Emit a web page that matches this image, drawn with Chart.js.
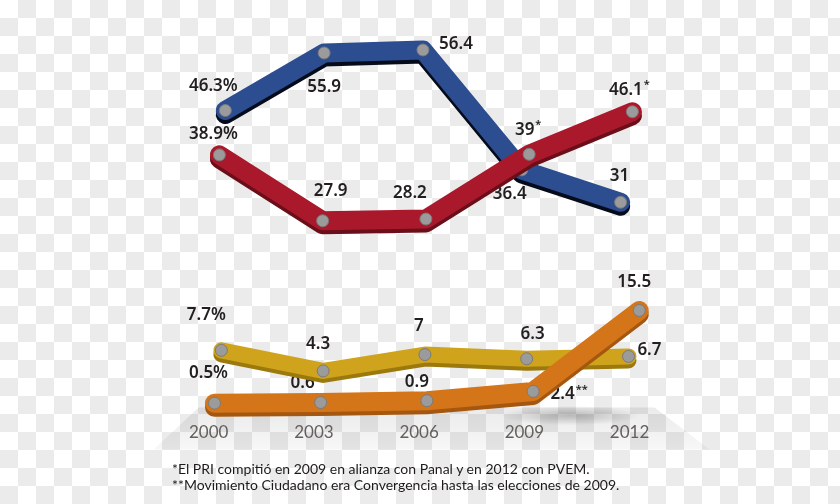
<!DOCTYPE html>
<html>
<head>
<meta charset="utf-8">
<script src="https://cdn.jsdelivr.net/npm/chart.js@4.4.1/dist/chart.umd.min.js"></script>
<style>
  html, body { margin: 0; padding: 0; }
  body {
    width: 840px; height: 504px; overflow: hidden; position: relative;
    background: repeating-conic-gradient(#ebebeb 0 25%, #ffffff 0 50%) 0 0 / 36px 36px;
  }
  #wrap { position: absolute; left: 0; top: 0; width: 840px; height: 504px; }
  .notes {
    position: absolute; left: 172px; top: 461px;
    font: 14px Lato, "Noto Sans", sans-serif; line-height: 16px; color: #1e1a1b;
  }
</style>
</head>
<body>
<div id="wrap"><canvas id="chart" width="840" height="504"></canvas></div>
<div class="notes">
  <div>*El PRI compitió en 2009 en alianza con Panal y en 2012 con PVEM.</div>
  <div>**Movimiento Ciudadano era Convergencia hasta las elecciones de 2009.</div>
</div>
<script>
const years = [2000, 2003, 2006, 2009, 2012];
const panValues = [46.3, 55.9, 56.4, 36.4, 31];
const priValues = [38.9, 27.9, 28.2, 39, 46.1];
const prdValues = [7.7, 4.3, 7, 6.3, 6.7];
const mcValues = [0.5, 0.6, 0.9, 2.4, 15.5];
const priNotes = ['', '', '', '*', '*'];
const mcNotes = ['', '', '', '**', ''];

const labelFont = '600 17px "Noto Sans", Lato, sans-serif';
const noteFont = '600 11px "Noto Sans", Lato, sans-serif';

function points(values) {
  return values.map((v, i) => ({ x: years[i], y: v }));
}

function series(values, notes, color, shadow, width, xAxisID, yAxisID, labelOffsets) {
  return {
    data: points(values),
    notes: notes,
    labelOffsets: labelOffsets,
    shadowColor: shadow,
    xAxisID: xAxisID,
    yAxisID: yAxisID,
    borderColor: color,
    borderWidth: width,
    borderCapStyle: 'round',
    borderJoinStyle: 'round',
    tension: 0,
    fill: false,
    pointRadius: 6,
    pointBackgroundColor: '#9b9b9b',
    pointBorderColor: '#7a7a7a',
    pointBorderWidth: 1,
  };
}

// grey floor under the bottom group
const floorPlugin = {
  id: 'floor',
  beforeDatasetsDraw(chart) {
    const { ctx, chartArea } = chart;
    const sx = chart.scales.x;
    const l = sx.getPixelForValue(2000), r = sx.getPixelForValue(2012);
    const t = chartArea.bottom - 12, b = chartArea.bottom + 30;
    ctx.save();
    const g = ctx.createLinearGradient(0, t, 0, b);
    g.addColorStop(0, 'rgba(0,0,0,0.08)');
    g.addColorStop(1, 'rgba(0,0,0,0.03)');
    ctx.fillStyle = g;
    ctx.beginPath();
    ctx.moveTo(l - 10, t);
    ctx.lineTo(r + 25, t);
    ctx.lineTo(r + 80, b);
    ctx.lineTo(l - 55, b);
    ctx.closePath();
    ctx.fill();
    const cx = sx.getPixelForValue(2010.3), cy = chartArea.bottom - 4;
    const rg = ctx.createRadialGradient(cx, cy, 0, cx, cy, 70);
    rg.addColorStop(0, 'rgba(0,0,0,0.22)');
    rg.addColorStop(1, 'rgba(0,0,0,0)');
    ctx.fillStyle = rg;
    ctx.translate(cx, cy);
    ctx.scale(1, 0.14);
    ctx.translate(-cx, -cy);
    ctx.beginPath();
    ctx.arc(cx, cy, 70, 0, Math.PI * 2);
    ctx.fill();
    ctx.restore();
  },
};

// value labels, drawn before the lines so lines pass over them
const labelPlugin = {
  id: 'valueLabels',
  beforeDatasetsDraw(chart) {
    const { ctx } = chart;
    ctx.save();
    ctx.fillStyle = '#231f20';
    ctx.textBaseline = 'middle';
    ctx.textAlign = 'left';
    chart.data.datasets.forEach((ds, di) => {
      const meta = chart.getDatasetMeta(di);
      meta.data.forEach((pt, i) => {
        const text = String(ds.data[i].y) + (i === 0 ? '%' : '');
        const note = ds.notes[i];
        const [dx, dy] = ds.labelOffsets[i];
        ctx.font = labelFont;
        const w = ctx.measureText(text).width;
        ctx.font = noteFont;
        const nw = note ? ctx.measureText(note).width + 1 : 0;
        const x0 = pt.x + dx - (w + nw) / 2;
        const y = pt.y + dy;
        ctx.font = labelFont;
        ctx.fillText(text, x0, y);
        if (note) {
          ctx.font = noteFont;
          ctx.fillText(note, x0 + w + 1, y - 5);
        }
      });
    });
    ctx.restore();
  },
};

// darker side face under each band, following the library's point positions
const sidePlugin = {
  id: 'bandSide',
  beforeDatasetDraw(chart, args) {
    const ds = chart.data.datasets[args.index];
    const pts = args.meta.data;
    const ctx = chart.ctx;
    ctx.save();
    ctx.strokeStyle = ds.shadowColor;
    ctx.lineWidth = ds.borderWidth;
    ctx.lineCap = 'round';
    ctx.lineJoin = 'round';
    ctx.beginPath();
    pts.forEach((p, i) => {
      if (i === 0) ctx.moveTo(p.x, p.y + 4);
      else ctx.lineTo(p.x, p.y + 4);
    });
    ctx.stroke();
    ctx.restore();
  },
};

const hidden = (min, max) => ({ type: 'linear', display: false, min: min, max: max });

new Chart(document.getElementById('chart'), {
  type: 'line',
  data: {
    datasets: [
      series(priValues, priNotes, '#a9192b', '#6a0e19', 19, 'xRed', 'yTop',
        [[-6, -21], [8, -30], [-16, -26], [-1, -24], [-3, -22]]),
      series(panValues, ['', '', '', '', ''], '#2c4d8f', '#060b1c', 19, 'xBlue', 'yTop',
        [[-12, -24], [0, 34], [33, -6], [-12, 24], [-1, -26]]),
      series(mcValues, mcNotes, '#d4751a', '#a5570f', 19, 'xOrange', 'yOrange',
        [[-6, -30], [-18, -19], [-10, -19], [36, 3], [-5, -28]]),
      series(prdValues, ['', '', '', '', ''], '#cfa31c', '#9c790c', 16, 'xYellow', 'yYellow',
        [[-15, -35], [-5, -27], [-6, -28], [6, -25], [21, -6]]),
    ],
  },
  options: {
    responsive: false,
    animation: false,
    layout: { padding: { top: 0, left: 0, right: 0, bottom: 58 } },
    plugins: {
      legend: { display: false },
      tooltip: { enabled: false },
    },
    scales: {
      x: {
        type: 'linear',
        position: 'bottom',
        min: 1994.25,
        max: 2017.8,
        afterBuildTicks: axis => { axis.ticks = years.map(v => ({ value: v })); },
        grid: { display: false, drawTicks: false },
        border: { display: false },
        ticks: {
          padding: 3,
          maxRotation: 0,
          color: '#6a6462',
          font: { family: 'Lato, "Noto Sans", sans-serif', size: 17 },
          callback: v => String(v),
        },
      },
      xBlue: hidden(1993.373, 2018.448),
      xRed: hidden(1993.829, 2017.829),
      xYellow: hidden(1993.681, 2018.029),
      xOrange: hidden(1994.139, 2017.472),
      yTop: hidden(-5.26, 63.57),
      yYellow: hidden(-3.74, 64.42),
      yOrange: hidden(-2.16, 64.6),
    },
  },
  plugins: [floorPlugin, labelPlugin, sidePlugin],
});
</script>
</body>
</html>
